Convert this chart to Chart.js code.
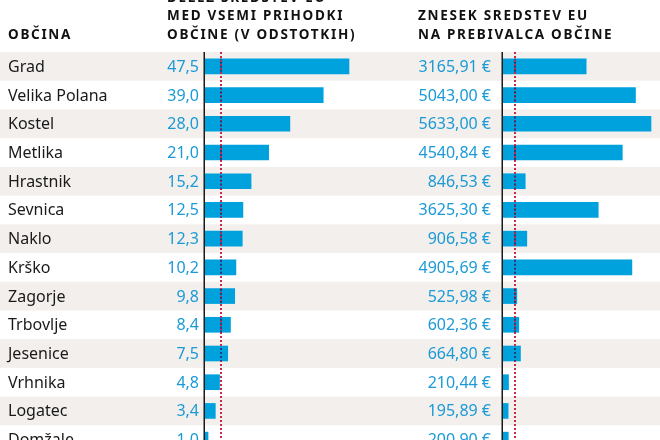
<!DOCTYPE html>
<html>
<head>
<meta charset="utf-8">
<script src="https://cdn.jsdelivr.net/npm/chart.js@4"></script>
<style>
  html, body { margin: 0; padding: 0; background: #fff; overflow: hidden; }
  #wrap { width: 660px; height: 440px; overflow: hidden; }
</style>
</head>
<body>
<div id="wrap"><canvas id="chart" width="660" height="460"></canvas></div>
<script>
const municipalities = ['Grad', 'Velika Polana', 'Kostel', 'Metlika', 'Hrastnik', 'Sevnica', 'Naklo', 'Krško', 'Zagorje', 'Trbovlje', 'Jesenice', 'Vrhnika', 'Logatec', 'Domžale'];
const shareOfRevenue = [47.5, 39.0, 28.0, 21.0, 15.2, 12.5, 12.3, 10.2, 9.8, 8.4, 7.5, 4.8, 3.4, 1.0];
const perCapitaEur = [3165.91, 5043.00, 5633.00, 4540.84, 846.53, 3625.30, 906.58, 4905.69, 525.98, 602.36, 664.80, 210.44, 195.89, 200.90];
const averageLines = [5.2, 460];
const headerName = 'OBČINA';
const headerShare = ['DELEŽ SREDSTEV EU', 'MED VSEMI PRIHODKI', 'OBČINE (V ODSTOTKIH)'];
const headerPerCapita = ['ZNESEK SREDSTEV EU', 'NA PREBIVALCA OBČINE'];

const BAR = '#00a2de';
const VALUE_BLUE = '#1b9ad6';
const STRIPE = '#f3efec';
const TEXT = '#1a1a1a';

const fmtShare = v => v.toFixed(1).replace('.', ',');
const fmtEur = v => v.toFixed(2).replace('.', ',') + ' €';

// stripes behind the rows
const rowBackground = {
  id: 'rowBackground',
  beforeDatasetsDraw(chart) {
    const { ctx, scales: { y } } = chart;
    const h = y.getPixelForValue(1) - y.getPixelForValue(0);
    ctx.save();
    ctx.fillStyle = STRIPE;
    municipalities.forEach((m, i) => {
      if (i % 2 === 0) {
        ctx.fillRect(0, y.getPixelForValue(i) - h / 2, chart.width, h);
      }
    });
    ctx.restore();
  }
};

function dotted(ctx, x, y0, y1, color) {
  ctx.save();
  ctx.strokeStyle = color;
  ctx.lineWidth = 2;
  ctx.setLineDash([2, 2]);
  ctx.lineDashOffset = -y0;
  ctx.beginPath();
  ctx.moveTo(x, y0);
  ctx.lineTo(x, y1);
  ctx.stroke();
  ctx.restore();
}

const tableText = {
  id: 'tableText',
  afterDatasetsDraw(chart) {
    const { ctx, scales: { y, x, x2 } } = chart;
    const h = y.getPixelForValue(1) - y.getPixelForValue(0);
    const top = y.getPixelForValue(0) - h / 2;
    const bottom = chart.height;

    // axis lines and average lines
    [[x, 0], [x2, 1]].forEach(([scale, k]) => {
      const x0 = Math.round(scale.getPixelForValue(0)) - 0.75;
      ctx.save();
      ctx.strokeStyle = '#1a1a1a';
      ctx.lineWidth = 1.5;
      ctx.beginPath();
      ctx.moveTo(x0, top);
      ctx.lineTo(x0, bottom);
      ctx.stroke();
      ctx.restore();

      const xa = Math.round(scale.getPixelForValue(averageLines[k]));
      dotted(ctx, xa, top, bottom, '#c8284a');
      const meta = chart.getDatasetMeta(k);
      meta.data.forEach(bar => {
        if (bar.x > xa) {
          const t = bar.y - bar.height / 2;
          dotted(ctx, xa, t, t + bar.height, '#1d3f7c');
        }
      });
    });

    ctx.save();
    ctx.textBaseline = 'middle';
    municipalities.forEach((m, i) => {
      const cy = y.getPixelForValue(i) + 1;
      ctx.font = '16px "Noto Sans"';
      ctx.fillStyle = TEXT;
      ctx.textAlign = 'left';
      ctx.fillText(m, 8, cy);
      ctx.fillStyle = VALUE_BLUE;
      ctx.textAlign = 'right';
      ctx.fillText(fmtShare(shareOfRevenue[i]), 199, cy);
      ctx.fillText(fmtEur(perCapitaEur[i]), 491, cy);
    });

    // column headers
    ctx.font = 'bold 13.5px "Noto Sans"';
    ctx.letterSpacing = '1.7px';
    ctx.fillStyle = '#111';
    ctx.textAlign = 'left';
    ctx.fillText(headerName, 8, 35);
    headerShare.forEach((t, i) => ctx.fillText(t, 167, -2 + i * 18.5));
    headerPerCapita.forEach((t, i) => ctx.fillText(t, 418, 16.5 + i * 18.5));
    ctx.restore();
  }
};

new Chart(document.getElementById('chart'), {
  type: 'bar',
  data: {
    labels: municipalities,
    datasets: [{
      label: 'Delež sredstev EU med vsemi prihodki občine (v odstotkih)',
      data: shareOfRevenue,
      xAxisID: 'x',
      backgroundColor: BAR,
      barThickness: 15,
      grouped: false
    }, {
      label: 'Znesek sredstev EU na prebivalca občine',
      data: perCapitaEur,
      xAxisID: 'x2',
      backgroundColor: BAR,
      barThickness: 15,
      grouped: false
    }]
  },
  options: {
    indexAxis: 'y',
    responsive: false,
    animation: false,
    layout: { padding: { left: 205, top: 52, right: 0, bottom: 6 } },
    scales: {
      y: { display: false },
      x: {
        position: 'bottom', stack: 'cols', stackWeight: 298,
        min: 0, max: 98.3,
        grid: { display: false, drawTicks: false },
        border: { display: false },
        ticks: { display: false }
      },
      x2: {
        position: 'bottom', stack: 'cols', stackWeight: 157,
        min: 0, max: 5976,
        grid: { display: false, drawTicks: false },
        border: { display: false },
        ticks: { display: false }
      }
    },
    plugins: {
      legend: { display: false },
      tooltip: { enabled: false }
    }
  },
  plugins: [rowBackground, tableText]
});
</script>
</body>
</html>
